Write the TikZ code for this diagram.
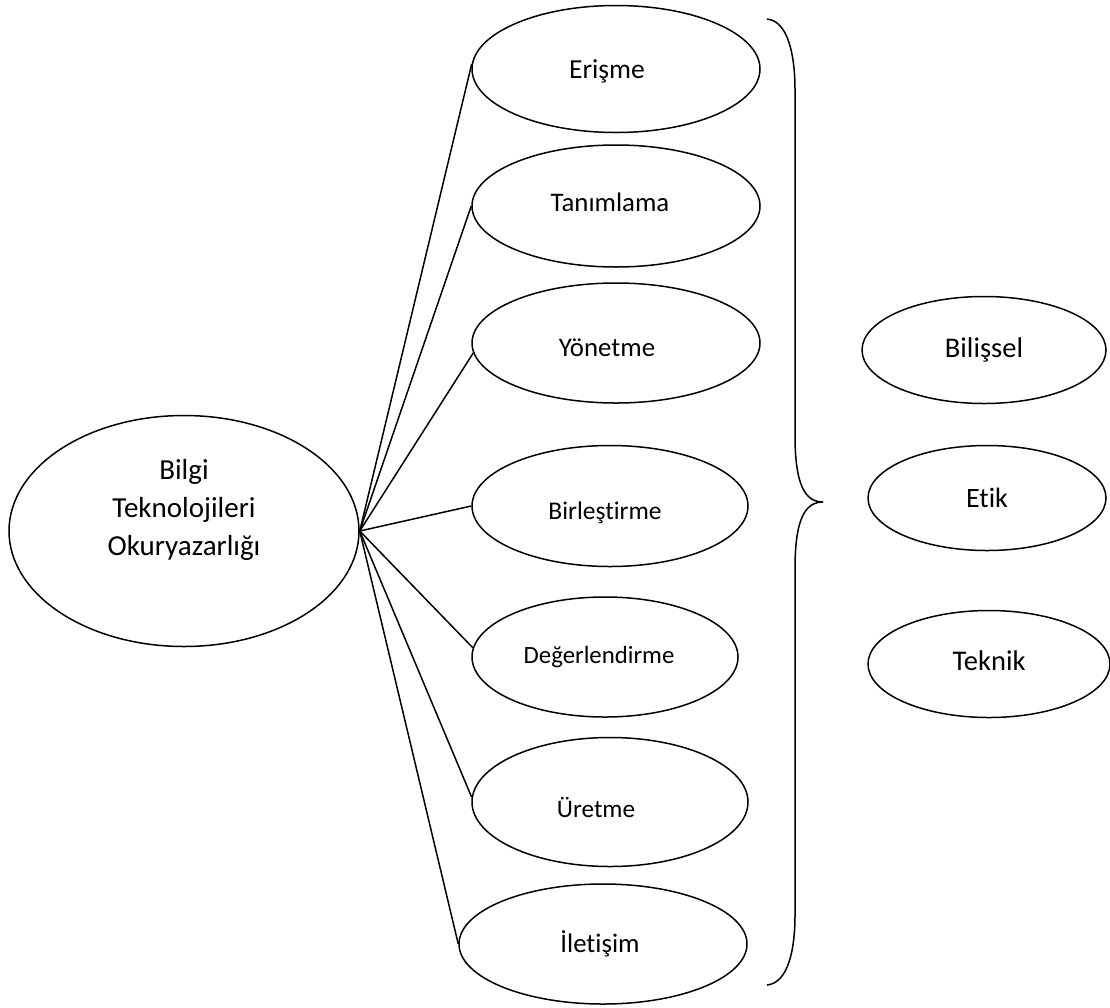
\documentclass[tikz,border=0pt]{standalone}
\usepackage{fontspec}
\setmainfont{Carlito}[Ligatures=NoCommon]
\usetikzlibrary{shapes.geometric}
\newcommand\fsz[1]{\fontsize{#1}{#1}\selectfont}
\newcommand\tx[3]{\hspace*{-#1pt}\raisebox{#2pt}[\height][\depth]{#3}}
\tikzset{
  oval/.style={draw, ellipse, inner sep=0pt, line width=1.5pt},
  link/.style={line width=1.5pt},
}
\begin{document}
\begin{tikzpicture}[x=1pt, y=-1pt]
\useasboundingbox (0,0) rectangle (1110,1007);
% big ellipse
\node[oval, minimum width=350pt, minimum height=231pt] (big) at (184,531) {};
\node[align=center, font=\fsz{29}, inner sep=0pt] (bigtxt) at (184,510) {Bilgi\\[9pt]Teknolojileri\\[9pt]Okuryazarlığı};
% middle column
\node[oval, minimum width=288pt, minimum height=127pt, font=\fsz{27.5}] (erisme) at (616,69) {\tx{18}{-2}{Erişme}};
\node[oval, minimum width=288pt, minimum height=122pt, font=\fsz{26.8}] (tanim) at (616,206) {\tx{12}{4}{Tanımlama}};
\node[oval, minimum width=288pt, minimum height=120pt, font=\fsz{26.8}] (yonet) at (616,343) {\tx{18}{-5}{Yönetme}};
\node[oval, minimum width=276pt, minimum height=121pt, font=\fsz{25.5}] (birles) at (610,506) {\tx{10}{-7}{Birleştirme}};
\node[oval, minimum width=266pt, minimum height=120pt, font=\fsz{24.8}] (deger) at (605,657) {\tx{12}{0}{Değerlendirme}};
\node[oval, minimum width=276pt, minimum height=129pt, font=\fsz{25.2}] (uret) at (610,802) {\tx{28}{-5}{Üretme}};
\node[oval, minimum width=288pt, minimum height=120pt, font=\fsz{26.8}] (ilet) at (603,944) {\tx{6}{0}{İletişim}};
% right column
\node[oval, minimum width=244pt, minimum height=107pt, font=\fsz{28.5}] (bilis) at (984,350) {Bilişsel};
\node[oval, minimum width=238pt, minimum height=105pt, font=\fsz{28}] (etik) at (987,498) {Etik};
\node[oval, minimum width=242pt, minimum height=107pt, font=\fsz{28.5}] (teknik) at (989,664) {\tx{0}{3}{Teknik}};
% connectors
\coordinate (hub) at (big.east);
\draw[link] (hub) -- (erisme.178);
\draw[link] (hub) -- (tanim.west);
\draw[link] (hub) -- (yonet.184);
\draw[link] (hub) -- (birles.west);
\draw[link] (hub) -- (deger.176);
\draw[link] (hub) -- (uret.178);
\draw[link] (hub) -- (ilet.west);
% brace
\draw[link] (767,19) .. controls (788,21) and (795,55) .. (795,90)
  -- (795,435) .. controls (795,485) and (805,502) .. (823,502)
  .. controls (805,502) and (795,519) .. (795,569)
  -- (795,915) .. controls (795,950) and (788,983) .. (767,985);
\end{tikzpicture}
\end{document}
